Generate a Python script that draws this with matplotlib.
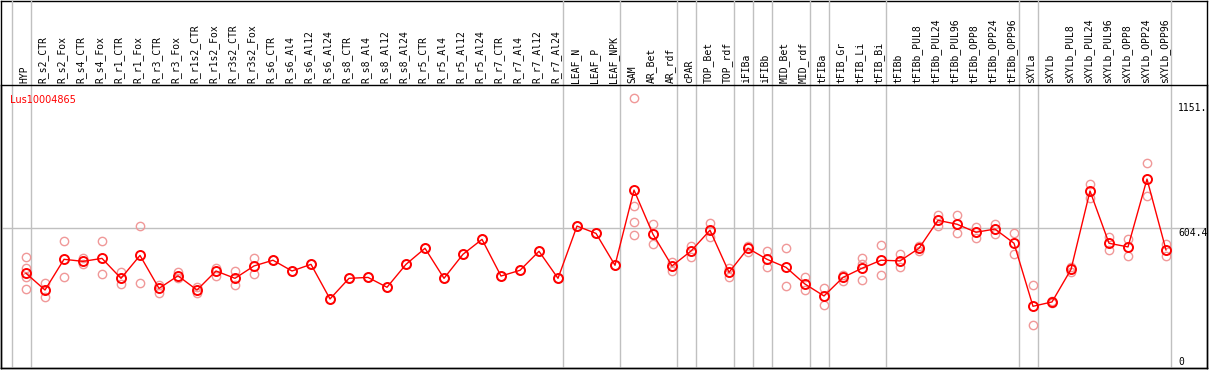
import numpy as np
import matplotlib
matplotlib.use("Agg")
import matplotlib.pyplot as plt

labels = ["HYP", "R_s2_CTR", "R_s2_Fox", "R_s4_CTR", "R_s4_Fox", "R_r1_CTR", "R_r1_Fox",
          "R_r3_CTR", "R_r3_Fox", "R_r1s2_CTR", "R_r1s2_Fox", "R_r3s2_CTR", "R_r3s2_Fox",
          "R_s6_CTR", "R_s6_Al4", "R_s6_Al12", "R_s6_Al24", "R_s8_CTR", "R_s8_Al4",
          "R_s8_Al12", "R_s8_Al24", "R_r5_CTR", "R_r5_Al4", "R_r5_Al12", "R_r5_Al24",
          "R_r7_CTR", "R_r7_Al4", "R_r7_Al12", "R_r7_Al24", "LEAF_N", "LEAF_P", "LEAF_NPK",
          "SAM", "AR_Bet", "AR_rdf", "cPAR", "TOP_Bet", "TOP_rdf", "iFIBa", "iFIBb",
          "MID_Bet", "MID_rdf", "tFIBa", "tFIB_Gr", "tFIB_Li", "tFIB_Bi", "tFIBb",
          "tFIBb_PUL8", "tFIBb_PUL24", "tFIBb_PUL96", "tFIBb_OPP8", "tFIBb_OPP24",
          "tFIBb_OPP96", "sXYLa", "sXYLb", "sXYLb_PUL8", "sXYLb_PUL24", "sXYLb_PUL96",
          "sXYLb_OPP8", "sXYLb_OPP24", "sXYLb_OPP96"]

means = [408, 335, 469, 460, 473, 386, 486, 342, 397, 335, 418, 386, 440,
         465, 418, 447, 296, 386, 390, 347, 447, 517, 386, 491, 556,
         396, 421, 504, 386, 614, 582, 443,
         771, 578, 440, 505, 596, 412, 517, 469, 434, 361, 309, 390, 430, 465, 462,
         517, 639, 622, 587, 601, 539, 264, 283, 425, 767, 539, 523, 819, 510]

reps = [[480, 431, 390, 338], [364, 306], [548, 390], [476, 449], [548, 405], [414, 360],
        [614, 364], [357, 322], [415, 386], [349, 323], [432, 397], [418, 356], [476, 405],
        [465], [418], [447], [296], [386], [390], [347], [447], [517], [386], [491], [556],
        [396], [421], [504], [386], [614], [582], [443],
        [1171, 702, 630, 574], [622, 536], [457, 418], [528, 480], [629, 565], [430, 393],
        [528, 501], [504, 434], [519, 352], [392, 334], [342, 268], [402, 373],
        [475, 449, 380], [530, 399], [492, 434],
        [527, 506], [664, 614], [662, 585], [611, 563], [623, 578], [582, 492],
        [357, 181], [287, 279], [437, 414], [798, 735], [568, 508], [558, 485],
        [888, 744], [536, 482]]

# groups end after these indices (separator lines)
group_ends = [-1, 0, 28, 31, 34, 35, 37, 38, 39, 41, 42, 45, 52, 53, 60]

title = "Lus10004865"
y_ticks = [1151, 604.4, 0]
y_tick_text = ["1151.", "604.4", "0"]

W, H = 1209, 370
fig = plt.figure(figsize=(W / 100, H / 100), dpi=100)

top_px, bot_px, left_px, right_px = 85, 368, 1, 1207
ax = fig.add_axes([left_px / W, (H - bot_px) / H, (right_px - left_px) / W, (bot_px - top_px) / H])

# outer frame (header + plot)
frame = fig.add_axes([left_px / W, (H - bot_px) / H, (right_px - left_px) / W, (bot_px - 0.5) / H],
                     zorder=-1)
frame.set_xticks([])
frame.set_yticks([])
for s in frame.spines.values():
    s.set_linewidth(1.0)
    s.set_color("black")

x = np.arange(len(labels))
ax.set_xlim((left_px - 26) / 19, (right_px - 26) / 19)
ax.set_ylim((366.8 - bot_px) / 0.2292, (366.8 - top_px) / 0.2292)
ax.set_xticks([])
ax.set_yticks([])
ax.patch.set_alpha(0)
for s in ax.spines.values():
    s.set_linewidth(1.0)

ax.axhline(604.4, color="#c0c0c0", lw=1, zorder=1)
head = 1 + (top_px - 0.5) / (bot_px - top_px)
for g in group_ends:
    ax.plot([g + 0.24, g + 0.24], [0, head], color="#c0c0c0", lw=1,
            transform=ax.get_xaxis_transform(), clip_on=False, zorder=1)

for i, r in enumerate(reps):
    ax.plot([i] * len(r), r, "o", ms=6, mfc="none", mec="#f09898", mew=1.0, zorder=2)

ax.plot(x, means, "-", color="red", lw=1, zorder=3)
ax.plot(x, means, "o", ms=6.5, mfc="none", mec="red", mew=1.4, zorder=4)

for i, lab in enumerate(labels):
    ax.text(i - 0.1, 1.006, lab, rotation=90, ha="center", va="bottom",
            family="DejaVu Sans Mono", fontsize=7, transform=ax.get_xaxis_transform(),
            clip_on=False)

for v, t in zip(y_ticks, y_tick_text):
    ax.text((1178 - 26) / 19, v, t, ha="left", va="top" if v > 0 else "bottom",
            family="DejaVu Sans Mono", fontsize=7)

ax.text((10 - 26) / 19, 1165, title, color="red", fontsize=7, ha="left", va="center")

fig.savefig("out.png", dpi=100)
